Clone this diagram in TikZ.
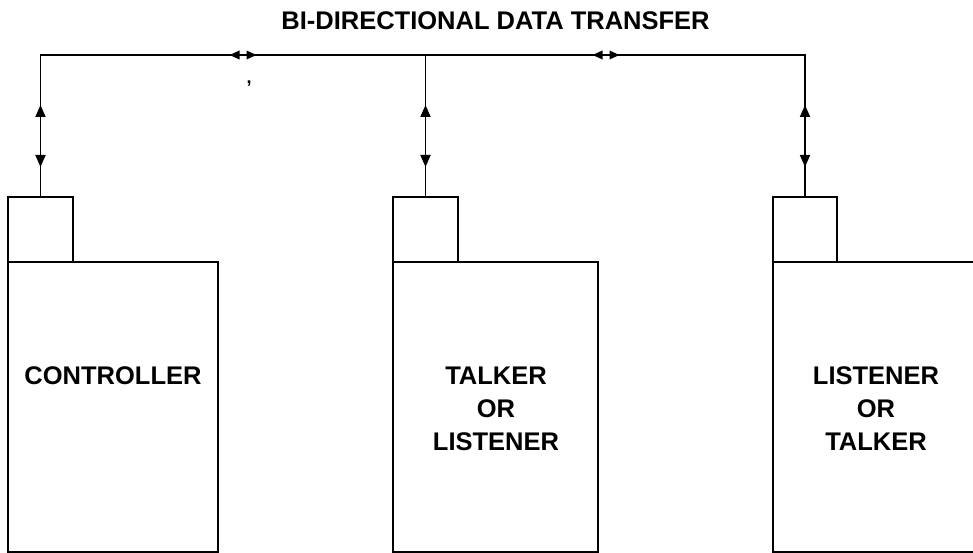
\documentclass[tikz,border=0pt]{standalone}
\usepackage{fontspec}
\setmainfont{Liberation Sans}
\usetikzlibrary{arrows.meta,decorations.markings}
\begin{document}
\begin{tikzpicture}[x=1pt,y=1pt,
  port/.style={draw, line width=2.6pt, inner sep=0pt, outer sep=0pt, minimum width=#1, minimum height=65pt},
  bigbox/.style={draw, line width=2.6pt, inner sep=0pt, outer sep=0pt, minimum width=#1, minimum height=290pt},
  lbl/.style={font=\fontsize{25.5}{33}\selectfont\bfseries, align=center, inner sep=0pt, anchor=north},
  busline/.style={line width=1.8pt},
  vtip/.tip={Triangle[length=12pt,width=10pt]},
  htip/.tip={Triangle[length=10pt,width=8.5pt]},
  vmarks/.style={busline, postaction=decorate, decoration={markings,
      mark=at position 92pt with {\arrow{vtip}},
      mark=at position 30pt with {\arrowreversed{vtip}}}},
  hmarks/.style={busline, postaction=decorate, decoration={markings,
      mark=at position 189pt with {\arrowreversed{htip}},
      mark=at position 216pt with {\arrow{htip}},
      mark=at position 552pt with {\arrowreversed{htip}},
      mark=at position 579pt with {\arrow{htip}}}}
]
\useasboundingbox (0,0) rectangle (973,-553);
% title
\node[font=\fontsize{25.5}{30}\selectfont\bfseries, inner sep=0pt, anchor=base] (title) at (495.5,-30) {BI-DIRECTIONAL DATA TRANSFER};
% boxes
\node[port=65pt, anchor=south west] (cp) at (8,-262) {};
\node[bigbox=210pt, anchor=north west] (cb) at (8,-262) {};
\node[port=65pt, anchor=south west] (tp) at (393,-262) {};
\node[bigbox=205pt, anchor=north west] (tb) at (393,-262) {};
\node[port=64pt, anchor=south west] (lp) at (773,-262) {};
\node[bigbox=206pt, anchor=north west] (lb) at (773,-262) {};
% labels
\node[lbl] (cl) at (113,-366.5) {CONTROLLER};
\node[lbl] (tl) at (496,-366.5) {TALKER\\OR\\LISTENER};
\node[lbl] (ll) at (876,-366.5) {LISTENER\\OR\\TALKER};
% bus
\coordinate (bustop) at (0,-55);
\coordinate (busL) at (cp.north |- bustop);
\coordinate (busM) at (tp.north |- bustop);
\coordinate (busR) at (lp.north |- bustop);
\draw[busline] (cp.north) -- (busL) -- (busR) -- (lp.north);
\draw[vmarks] (cp.north) -- (busL);
\draw[vmarks] (tp.north) -- (busM);
\draw[vmarks] (lp.north) -- (busR);
\draw[hmarks] (busL) -- (busR);
% stray mark
\node[font=\fontsize{18}{18}\selectfont\bfseries, inner sep=0pt] (comma) at (249,-84) {,};
\end{tikzpicture}
\end{document}
